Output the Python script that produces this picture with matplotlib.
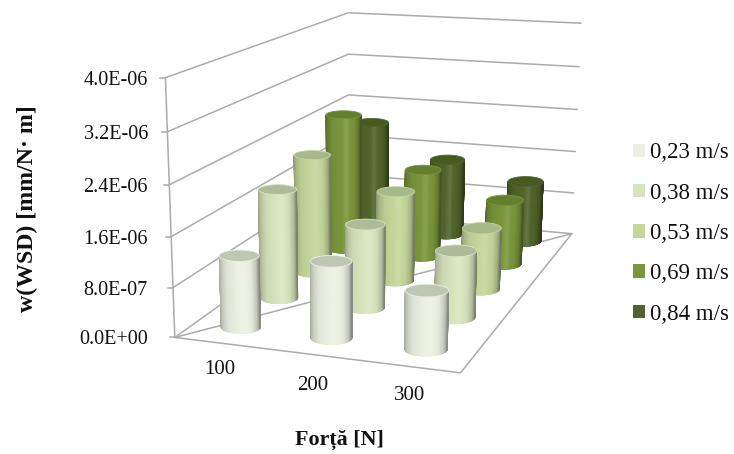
import numpy as np
import matplotlib
matplotlib.use("Agg")
import matplotlib.pyplot as plt
from matplotlib.collections import PolyCollection
from matplotlib.patches import Patch, Polygon

plt.rcParams['font.family'] = ['Liberation Serif', 'DejaVu Serif']

categories = ['100', '200', '300']
series = ['0,23 m/s', '0,38 m/s', '0,53 m/s', '0,69 m/s', '0,84 m/s']
v023 = [1.16e-6, 1.22e-6, 0.92e-6]
v038 = [1.84e-6, 1.39e-6, 1.10e-6]
v053 = [2.08e-6, 1.56e-6, 1.06e-6]
v069 = [2.49e-6, 1.59e-6, 1.16e-6]
v084 = [2.05e-6, 1.44e-6, 1.14e-6]
values = [v023, v038, v053, v069, v084]
y_ticks = [0.0, 8e-7, 1.6e-6, 2.4e-6, 3.2e-6, 4e-6]
y_labels = ['0.0E+00', '8.0E-07', '1.6E-06', '2.4E-06', '3.2E-06', '4.0E-06']
y_max = 4e-6
legend_colors = ['#EBF0E1', '#D8E4BE', '#C5D69B', '#7A963C', '#50642A']
top_colors = ['#BEC6B4', '#AEBB9A', '#A6B98A', '#64802F', '#465A22']

# perspective box: (category fraction, depth fraction, height fraction) -> figure pixels
world = np.array([[0,0,0],[0,0,1],[1,0,0],[1,1,0],[0,1,0],[0,1,1],[1,1,1]], float)
screen = np.array([[175,336],[165,78],[460.7,374],[572,232.3],[348,215],[349,12],[580.7,23.7]], float)
A = []
b = []
for (u, v, w), (x, y) in zip(world, screen):
    A.append([u, v, w, 1, 0, 0, 0, 0, -x*u, -x*v, -x*w]); b.append(x)
    A.append([0, 0, 0, 0, u, v, w, 1, -y*u, -y*v, -y*w]); b.append(y)
H = np.append(np.linalg.lstsq(np.array(A), np.array(b), rcond=None)[0], 1).reshape(3, 4)

def proj(u, v, w):
    u, v, w = np.broadcast_arrays(u, v, w)
    P = H @ np.vstack([u.ravel(), v.ravel(), w.ravel(), np.ones(u.size)])
    return P[0]/P[2], P[1]/P[2]

fig = plt.figure(figsize=(7.34, 4.54), dpi=100)
ax = fig.add_axes([0, 0, 1, 1])
ax.set_xlim(0, 734); ax.set_ylim(454, 0); ax.axis('off')

GRID = '#ABABAB'
def line(u, v, w, **kw):
    x, y = proj(u, v, w)
    ax.plot(x, y, color=GRID, lw=1.1, solid_capstyle='round', zorder=1, **kw)

for t, lab in zip(y_ticks, y_labels):
    h = t/y_max
    line([0, 0, 1], [0, 1, 1], [h, h, h])
    x, y = proj(0, 0, h)
    ax.plot([x[0]-5, x[0]], [y[0], y[0]], color=GRID, lw=1.1, zorder=1)
    ax.text(148, y[0]+2.5, lab, ha='right', va='center', fontsize=14.5, color='#111111')
line([0, 0], [0, 0], [0, 1])
line([0, 1, 1, 0], [0, 0, 1, 0], [0, 0, 0, 0])

RU, ELL = 0.074, 0.33
theta = np.linspace(0, 2*np.pi, 361)[:-1]
items = []
for j, row in enumerate(values):
    for i, val in enumerate(row):
        uc, vc = (i+0.5)/3, (j+0.5)/5
        bx, by = proj(uc, vc, 0)
        items.append((by[0], i, j, uc, vc, val/y_max))
items.sort()

def shade(base, t):
    s = np.interp(t, [0, .03, .08, .2, .45, .6, .8, .92, .97, 1], [.70, .78, .86, .95, 1.0, 1.03, .97, .84, .70, .58])
    c = np.array(matplotlib.colors.to_rgb(base))
    out = c*s if s <= 1 else c + (1-c)*(s-1)*4
    return np.clip(out, 0, 1)

for k, (_, i, j, uc, vc, h) in enumerate(items):
    # footprint: an upright ellipse on screen, mapped back onto the floor plane
    x0, y0 = proj(uc, vc, 0)
    xu, yu = proj(uc+1e-3, vc, 0)
    xv, yv = proj(uc, vc+1e-3, 0)
    J = np.array([[xu[0]-x0[0], xv[0]-x0[0]], [yu[0]-y0[0], yv[0]-y0[0]]])/1e-3
    a = RU*J[0, 0]
    d = np.linalg.solve(J, np.vstack([a*np.cos(theta), -a*ELL*np.sin(theta)]))
    cu, cv = uc + d[0], vc + d[1]
    bx, by = proj(cu, cv, 0)
    tx, ty = proj(cu, cv, h)
    il, ir = bx.argmin(), bx.argmax()
    idx = [il]
    while idx[-1] != ir:
        idx.append((idx[-1]+1) % theta.size)
    polys, cols = [], []
    for p, q in zip(idx[:-1], idx[1:]):
        polys.append([(bx[p], by[p]), (bx[q], by[q]), (tx[q], ty[q]), (tx[p], ty[p])])
        cols.append(shade(legend_colors[j], ((bx[p]+bx[q])/2-bx[il])/(bx[ir]-bx[il])))
    z = 3 + k
    ax.add_collection(PolyCollection(polys, facecolors=cols, edgecolors=cols, linewidths=0.4, zorder=z))
    ax.add_patch(Polygon(np.c_[tx, ty], closed=True, facecolor=top_colors[j],
                         edgecolor=legend_colors[j], lw=0.6, zorder=z+0.5))

ax.text(27, 209, 'w(WSD) [mm/N· m]', rotation=90, ha='center', va='center', fontsize=17.2, fontweight='bold', color='#111111')
ax.text(339, 440, 'Forță [N]', ha='center', va='center', fontsize=15.8, fontweight='bold', color='#111111')
for lab, (x, y) in zip(categories, [(220, 370), (313, 385), (410, 395)]):
    ax.text(x, y, lab, ha='center', va='center', fontsize=15, color='#111111')

handles = [Patch(facecolor=c, edgecolor='none', label=s) for c, s in zip(legend_colors, series)]
ax.legend(handles=handles, loc='center left', bbox_to_anchor=(633/734, 1-233.5/454), frameon=False,
          fontsize=16.5, handlelength=0.52, handleheight=0.52, handletextpad=0.22, labelspacing=0.84,
          borderpad=0, borderaxespad=0, labelcolor='#111111')
fig.savefig('out.png', dpi=100)
